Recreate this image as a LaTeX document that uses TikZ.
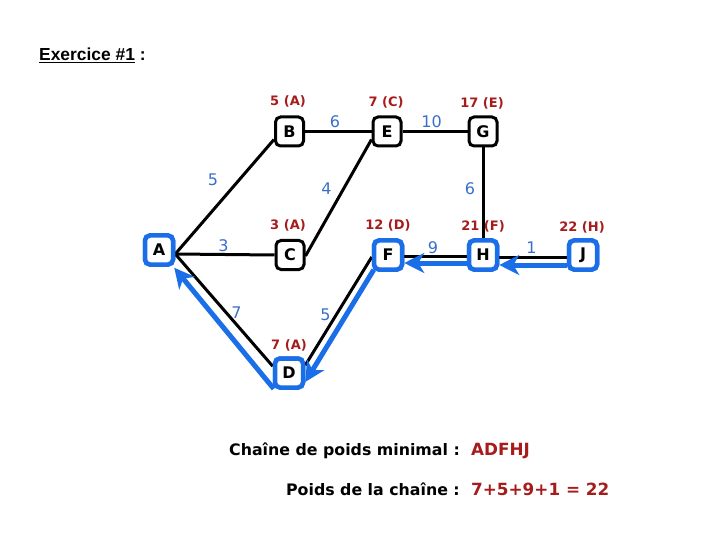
\documentclass[tikz,border=0pt]{standalone}
\usepackage{fontspec}
\setmainfont{DejaVu Sans}
\newfontfamily\titlefont{Liberation Sans}
\usetikzlibrary{arrows.meta}
\definecolor{dred}{HTML}{A61C1C}
\definecolor{lblue}{HTML}{3A6FC8}
\definecolor{pathblue}{HTML}{1A6FE8}
\begin{document}
\begin{tikzpicture}[x=1bp,y=-1bp,
  box/.style={draw, line width=3bp, rounded corners=5bp, minimum width=28bp, minimum height=29bp, inner sep=0pt, fill=white, font=\bfseries\fontsize{16bp}{17bp}\selectfont},
  bluebox/.style={box, draw=pathblue, line width=4.5bp},
  wlab/.style={text=lblue, inner sep=0pt, font=\fontsize{16bp}{17bp}\selectfont},
  dlab/.style={text=dred, inner sep=0pt, font=\bfseries\fontsize{13bp}{14bp}\selectfont},
  edge/.style={line width=3bp},
  bpath/.style={draw=pathblue, line width=5bp, -{Stealth[length=20bp,width=20bp,inset=6bp]}},
  btext/.style={inner sep=0pt, font=\bfseries\fontsize{15.8bp}{17bp}\selectfont},
  rtext/.style={inner sep=0pt, text=dred, font=\bfseries\fontsize{16.8bp}{18bp}\selectfont}
]
\useasboundingbox (0,0) rectangle (720,540);

% nodes
\node[bluebox] (A) at (159,250) {A};
\node[box] (B) at (289.5,131.5) {B};
\node[box] (E) at (387,131.5) {E};
\node[box] (G) at (483,131.5) {G};
\node[box] (C) at (290,255) {C};
\node[bluebox] (F) at (388,255) {F};
\node[bluebox] (H) at (483,255) {H};
\node[bluebox] (J) at (583,255) {J};
\node[bluebox] (D) at (289,373) {D};

% black edges
\draw[edge] ([yshift=-4bp]A.east) -- ([yshift=8bp]B.south west);
\draw[edge] ([yshift=-4bp]A.east) -- (C.west);
\draw[edge] ([yshift=-4bp]A.east) -- ([yshift=-10bp]D.north west);
\draw[edge] (B) -- (E);
\draw[edge] (E) -- (G);
\draw[edge] ([yshift=-1bp]C.east) -- ([yshift=8bp]E.south west);
\draw[edge] ([yshift=-2bp]F.west) -- ([yshift=-9bp]D.north east);
\draw[edge] (G) -- (H);
\draw[edge] ([yshift=-2bp]F.east) -- ([yshift=-2bp]H.west);
\draw[edge] ([yshift=-3bp]H.east) -- ([yshift=-3bp]J.west);

% blue path
\draw[bpath] ([yshift=-10bp]J.west) -- ([yshift=-10bp]H.east);
\draw[bpath] ([yshift=-8bp]H.west) -- ([yshift=-8bp]F.east);
\draw[bpath] ([shift={(2bp,2bp)}]F.south west) -- ([yshift=-9bp]D.east);
\draw[bpath] ([shift={(1bp,1bp)}]D.south west) -- ([shift={(-1bp,-1bp)}]A.south east);

% redraw boxes on top
\node[bluebox] at (A) {A};
\node[bluebox] at (F) {F};
\node[bluebox] at (H) {H};
\node[bluebox] at (J) {J};
\node[bluebox] at (D) {D};

% edge weights
\node[wlab] (w1) at (335,122) {6};
\node[wlab] (w2) at (431.5,122) {10};
\node[wlab] (w3) at (213,180) {5};
\node[wlab] (w4) at (326.5,189) {4};
\node[wlab] (w5) at (470,189) {6};
\node[wlab] (w6) at (223.5,246) {3};
\node[wlab] (w7) at (433,248) {9};
\node[wlab] (w8) at (531.5,248) {1};
\node[wlab] (w9) at (236.5,313) {7};
\node[wlab] (w10) at (325.5,315) {5};

% node labels
\node[dlab] (lB) at (288,101.5) {5 (A)};
\node[dlab] (lE) at (386,102) {7 (C)};
\node[dlab] (lG) at (482,103) {17 (E)};
\node[dlab] (lC) at (288,225) {3 (A)};
\node[dlab] (lF) at (388,225.5) {12 (D)};
\node[dlab] (lH) at (483,226.5) {21 (F)};
\node[dlab] (lJ) at (582,227.5) {22 (H)};
\node[dlab] (lD) at (289,345.5) {7 (A)};

% title
\node[anchor=base west, inner sep=0pt, font=\titlefont\bfseries\fontsize{17.4bp}{19bp}\selectfont] (title) at (39,61) {\underline{Exercice \#1} :};

% bottom text
\node[btext, anchor=base east] (t1) at (460,455) {Chaîne de poids minimal :};
\node[rtext, anchor=base west] (r1) at (471,455) {ADFHJ};
\node[btext, anchor=base east] (t2) at (460,495) {Poids de la chaîne :};
\node[rtext, anchor=base west] (r2) at (471,495) {7+5+9+1 = 22};
\end{tikzpicture}
\end{document}
